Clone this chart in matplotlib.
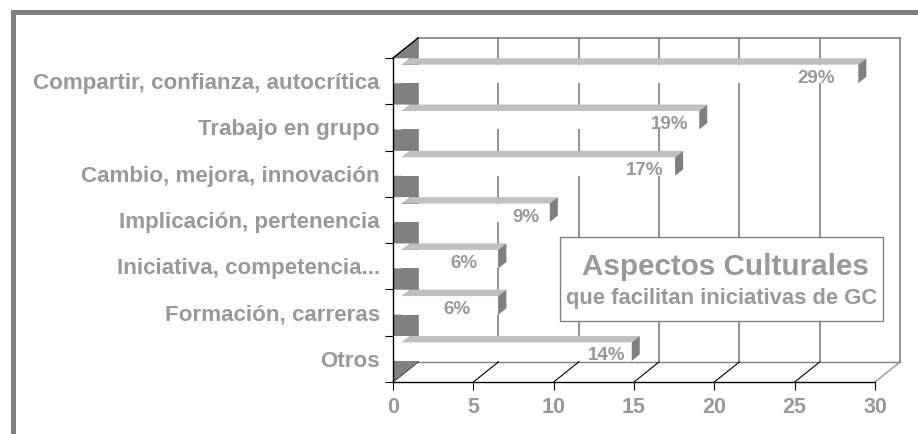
import numpy as np
import matplotlib
matplotlib.use('Agg')
import matplotlib.pyplot as plt
from matplotlib.patches import Rectangle

plt.rcParams['font.family'] = ['Liberation Sans', 'DejaVu Sans']
plt.rcParams['font.weight'] = 'bold'

# data, top to bottom as in the chart
categories = ['Compartir, confianza, autocrítica', 'Trabajo en grupo',
              'Cambio, mejora, innovación', 'Implicación, pertenencia',
              'Iniciativa, competencia...', 'Formación, carreras', 'Otros']
values = [28.4, 18.5, 17.0, 9.2, 6.0, 6.0, 14.3]
pct_labels = ['29%', '19%', '17%', '9%', '6%', '6%', '14%']
xticks = [0, 5, 10, 15, 20, 25, 30]

title = 'Aspectos Culturales'
subtitle = 'que facilitan iniciativas de GC'

# label nudges (pixels, relative to the bar end) as in the original
label_shift = [-42, -30, -31, -24, -34, -41, -25]

GREY_TXT = '#999999'
DARK = '#808080'
LIGHT = '#c0c0c0'

W, H = 918, 434
fig = plt.figure(figsize=(W / 100, H / 100), dpi=100)

# front plane of the plot area in pixels + oblique depth offset
x0_px, x1_px, ybot_px, ytop_px = 393, 875, 382, 58
dep_x, dep_y = 25, 20
n = len(categories)
xmax = xticks[-1]
sx = (x1_px - x0_px) / xmax
sy = (ybot_px - ytop_px) / n
DX = dep_x / sx
DY = dep_y / sy

ax = fig.add_axes([x0_px / W, 1 - ybot_px / H,
                   (x1_px - x0_px + dep_x) / W, (ybot_px - ytop_px + dep_y) / H])
ax.set_xlim(0, xmax + DX)
ax.set_ylim(0, n + DY)
for s in ax.spines.values():
    s.set_visible(False)
ax.patch.set_alpha(0)

# back wall
for v in xticks:
    ax.plot([v + DX, v + DX], [DY, n + DY], color=DARK, lw=1.2, zorder=1, clip_on=False)
ax.plot([DX, xmax + DX], [n + DY, n + DY], color=DARK, lw=1.2, zorder=1, clip_on=False)

# floor
ax.plot([DX, xmax + DX], [DY, DY], color=DARK, lw=1.0, zorder=1, clip_on=False)
for v in xticks:
    c = DARK if v == xmax else 'black'
    ax.plot([v, v + DX], [0, DY], color=c, lw=0.8, zorder=1, clip_on=False)

# left wall
ax.fill([0, DX, DX, 0], [0, DY, n + DY, n], color=DARK, lw=0, zorder=1.5)

# bars with a fake 3d look
z0, z1, h = 0.36, 0.68, 0.4
ddx, ddy = (z1 - z0) * DX, (z1 - z0) * DY
for k, (v, lab) in enumerate(zip(values, pct_labels)):
    yc = n - k - 0.5
    xa = z0 * DX
    xb = v + z0 * DX
    yb = yc - h / 2 + z0 * DY
    yt = yc + h / 2 + z0 * DY
    ax.fill([0, xa, xa, xa + ddx, 0], [yb, yb, yt, yt + ddy, yt + ddy],
            color='white', lw=0, zorder=2)
    ax.fill([xa, xb, xb, xa], [yb, yb, yt, yt], color='white', lw=0, zorder=2)
    ax.fill([xa, xb, xb + ddx, xa + ddx], [yt, yt, yt + ddy, yt + ddy],
            color=LIGHT, lw=0, zorder=2.5)
    ax.fill([xb, xb + ddx, xb + ddx, xb], [yb, yb + ddy, yt + ddy, yt],
            color=DARK, lw=0, zorder=2.5)
    ax.text(xb + label_shift[k] / sx, yb + 0.5 / sy, lab, ha='center', va='baseline',
            fontsize=13.5, color=GREY_TXT, zorder=4)

# axis lines
ax.plot([0, 0], [0, n], color='black', lw=1.0, zorder=3, clip_on=False)
ax.plot([0, DX], [n, n + DY], color='black', lw=1.0, zorder=3, clip_on=False)
ax.plot([0, xmax], [0, 0], color='black', lw=1.0, zorder=3, clip_on=False)

# ticks
ax.set_xticks(xticks)
ax.tick_params(axis='x', length=5.8, width=0.8, color='black', pad=5,
               labelsize=15.5, labelcolor=GREY_TXT)
ax.set_yticks(range(n + 1))
ax.set_yticklabels([])
ax.set_yticks([n - k - 0.5 for k in range(n)], categories, minor=True)
ax.tick_params(axis='y', which='major', length=5.8, width=0.8, color='black')
ax.tick_params(axis='y', which='minor', length=0, pad=9.4,
               labelsize=16.1, labelcolor=GREY_TXT)

# title box
fig.add_artist(Rectangle((560 / W, 1 - 321 / H), 323 / W, 84 / H,
                         transform=fig.transFigure, fc='white', ec=DARK, lw=1.0, zorder=1))
fig.text(725.5 / W, 1 - 275 / H, title, ha='center', va='baseline',
         fontsize=21.3, color=GREY_TXT, zorder=3)
fig.text(721.5 / W, 1 - 304 / H, subtitle, ha='center', va='baseline',
         fontsize=15.8, color=GREY_TXT, zorder=3)

# outer frame
fig.add_artist(Rectangle((12.5 / W, -0.1), 1.2, 1.1 - 12.5 / H,
                         transform=fig.transFigure, fill=False, ec=DARK, lw=3.6, zorder=5))

fig.savefig('out.png', dpi=100)
